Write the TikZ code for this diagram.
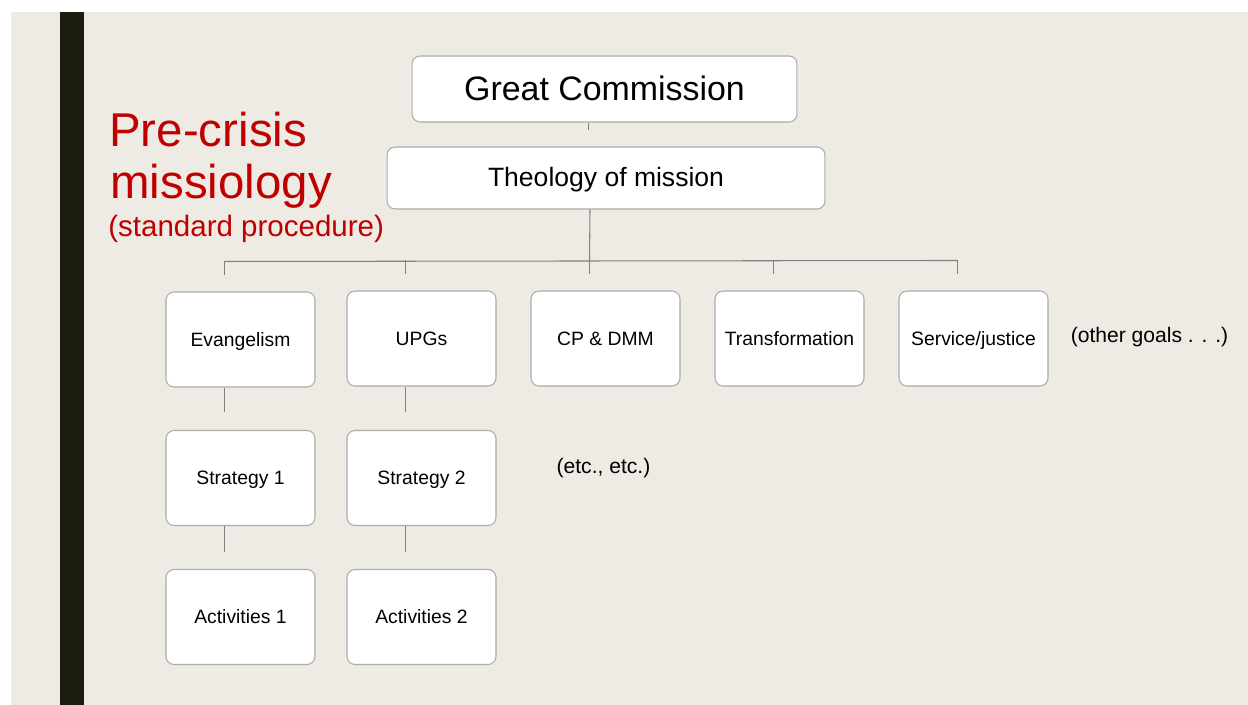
\documentclass[tikz,border=0pt]{standalone}
\usepackage{fontspec}
\setmainfont{Liberation Sans}
\usetikzlibrary{positioning}
\usepackage{xcolor}
\definecolor{slidebg}{RGB}{237,235,227}
\definecolor{sidebar}{RGB}{28,28,16}
\definecolor{titlered}{RGB}{192,0,0}
\definecolor{boxline}{RGB}{172,172,168}
\definecolor{linkgray}{RGB}{128,128,128}

\begin{document}
\begin{tikzpicture}[x=0.02cm, y=-0.02cm,
    goal/.style={draw=boxline, line width=0.6pt, fill=white, rounded corners=0.16cm,
                 minimum width=2.98cm, minimum height=1.9cm, inner sep=0pt,
                 text height=9.7pt, text depth=2pt,
                 font=\fontsize{11}{13}\selectfont},
    title/.style={anchor=base west, inner sep=0pt, text=titlered,
                  font=\fontsize{27}{30}\selectfont},
    note/.style={inner sep=0pt, font=\fontsize{12}{14}\selectfont},
    link/.style={draw=linkgray, line width=0.6pt},
    offs/.style={xshift=-0.32cm}]
    % Slide background and side bar
    \useasboundingbox (0,0) rectangle (1248,705);
    \fill[white] (0,0) rectangle (1248,705);
    \fill[slidebg] (11,12) rectangle (1248,705);
    \fill[sidebar] (60,12) rectangle (84,705);

    % Heading
    \node[title] (pre) at (109,147) {Pre-crisis};
    \node[title] (miss) at (110,199) {missiology};
    \node[title, font=\fontsize{16.8}{19}\selectfont] (std) at (108,237) {(standard procedure)};

    % Nodes
    \node[goal, minimum width=7.7cm, minimum height=1.32cm, text height=15pt, text depth=1.4pt,
          font=\fontsize{19.3}{22}\selectfont] (gc) at (604.5,89) {Great Commission};
    \node[goal, minimum width=8.76cm, minimum height=1.24cm, text height=11.5pt, text depth=1.6pt,
          font=\fontsize{15.1}{18}\selectfont] (theo) at (606,178) {Theology of mission};

    \node[goal] (evan) at (240.5,339.5) {Evangelism};
    \node[goal] (upg) at (421.5,338.5) {UPGs};
    \node[goal] (cp) at (605.5,338.5) {CP \& DMM};
    \node[goal] (trans) at (789.5,338.5) {Transformation};
    \node[goal] (serv) at (973.5,338.5) {Service/justice};

    \node[goal] (strat1) at (240.5,478) {Strategy 1};
    \node[goal] (strat2) at (421.5,478) {Strategy 2};
    \node[goal] (act1) at (240.5,617) {Activities 1};
    \node[goal] (act2) at (421.5,617) {Activities 2};

    \node[note] (other) at (1149.5,337) {(other goals . . .)};
    \node[note] (etc) at (603.5,468) {(etc., etc.)};

    % Edges from the top
    \draw[link] ([offs]gc.south) -- ++(0,7);
    \draw[link] ([offs]theo.south) -- ([offs,yshift=0.6cm]cp.north);
    \draw[link] ([offs,yshift=0.6cm]evan.north) -- ([offs,yshift=0.6cm]serv.north);

    % Short drops to the goals
    \draw[link] ([offs,yshift=0.6cm]evan.north) -- ([offs,yshift=0.32cm]evan.north);
    \draw[link] ([offs,yshift=0.6cm]upg.north) -- ([offs,yshift=0.32cm]upg.north);
    \draw[link] ([offs,yshift=0.6cm]cp.north) -- ([offs,yshift=0.32cm]cp.north);
    \draw[link] ([offs,yshift=0.6cm]trans.north) -- ([offs,yshift=0.32cm]trans.north);
    \draw[link] ([offs,yshift=0.6cm]serv.north) -- ([offs,yshift=0.32cm]serv.north);

    % Goal -> strategy -> activities
    \draw[link] ([offs]evan.south) -- ([offs,yshift=0.36cm]strat1.north);
    \draw[link] ([offs]upg.south) -- ([offs,yshift=0.36cm]strat2.north);
    \draw[link] ([offs]strat1.south) -- ([offs,yshift=0.34cm]act1.north);
    \draw[link] ([offs]strat2.south) -- ([offs,yshift=0.34cm]act2.north);
\end{tikzpicture}
\end{document}
